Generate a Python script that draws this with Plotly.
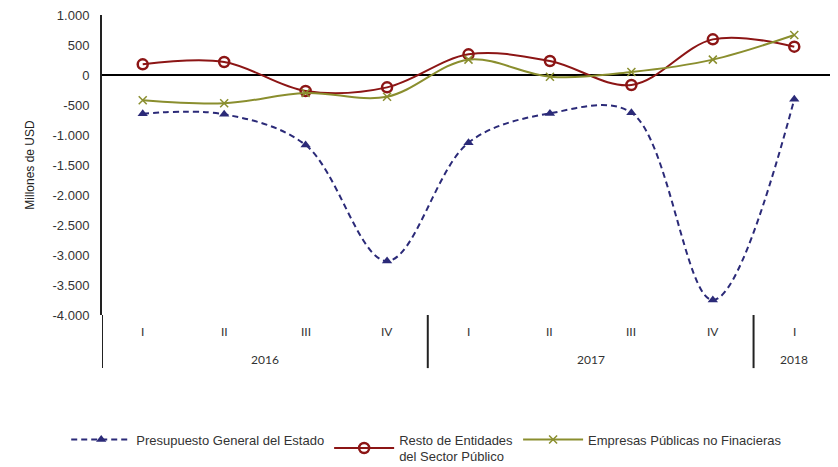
import plotly.graph_objects as go

years = ["2016", "2016", "2016", "2016", "2017", "2017", "2017", "2017", "2018"]
quarters = ["I", "II", "III", "IV", "I", "II", "III", "IV", "I"]

presupuesto = [-645, -655, -1167, -3100, -1128, -640, -628, -3750, -405]
resto = [178, 217, -267, -206, 344, 233, -167, 594, 472]
empresas = [-422, -472, -300, -361, 256, -28, 50, 256, 667]

names = ["Presupuesto General del Estado",
         "Resto de Entidades<br>del Sector Público",
         "Empresas Públicas no Finacieras"]

y_ticks = [1000, 500, 0, -500, -1000, -1500, -2000, -2500, -3000, -3500, -4000]
y_ticktext = ["1.000", "500", "0", "-500", "-1.000", "-1.500", "-2.000",
              "-2.500", "-3.000", "-3.500", "-4.000"]

idx = list(range(len(quarters)))

fig = go.Figure()
fig.add_trace(go.Scatter(
    x=idx, y=presupuesto, name=names[0], mode="lines+markers",
    line=dict(color="#2B2A78", width=2, dash="6px,4px", shape="spline"),
    marker=dict(symbol="triangle-up", size=9, color="#2B2A78")))
fig.add_trace(go.Scatter(
    x=idx, y=resto, name=names[1], mode="lines+markers",
    line=dict(color="#8C1515", width=2, shape="spline"),
    marker=dict(symbol="circle-open", size=10, color="#8C1515",
                line=dict(width=2.5, color="#8C1515"))))
fig.add_trace(go.Scatter(
    x=idx, y=empresas, name=names[2], mode="lines+markers",
    line=dict(color="#8A8E2E", width=2, shape="spline"),
    marker=dict(symbol="x-thin-open", size=8, color="#8A8E2E",
                line=dict(width=1.5, color="#8A8E2E"))))

label_font = dict(family="Lato, Liberation Sans, sans-serif", size=12, color="#333333")

# quarter labels (first row)
for i, q in enumerate(quarters):
    fig.add_annotation(x=i, y=-0.054, xref="x", yref="paper", text=q,
                       showarrow=False, font=label_font, xanchor="center", yanchor="middle")

# year groups (second row) and dividers
groups = []
for i, yv in enumerate(years):
    if groups and groups[-1][0] == yv:
        groups[-1][2] = i
    else:
        groups.append([yv, i, i])
for yv, s, e in groups:
    fig.add_annotation(x=(s + e) / 2, y=-0.147, xref="x", yref="paper", text=yv,
                       showarrow=False, font=label_font, xanchor="center", yanchor="middle")
boundaries = [groups[0][1] - 0.5] + [e + 0.5 for _, _, e in groups]
for b in boundaries:
    fig.add_shape(type="line", xref="x", yref="paper", x0=b, x1=b, y0=0, y1=-0.177,
                  line=dict(color="#222222", width=2))

fig.update_layout(
    width=838, height=467,
    margin=dict(l=94, r=11, t=7, b=160, autoexpand=False),
    paper_bgcolor="white", plot_bgcolor="white",
    font=dict(family="Liberation Sans, Arial, sans-serif", size=12, color="#222222"),
    showlegend=True,
    legend=dict(orientation="h", x=0.443, xanchor="center",
                yref="container", y=0.108, yanchor="top",
                font=dict(family="Liberation Sans, Arial, sans-serif", size=13, color="#333333"),
                traceorder="normal", itemwidth=60),
)
fig.update_yaxes(
    range=[-4000, 1000], tickvals=y_ticks, ticktext=y_ticktext,
    showgrid=False, zeroline=True, zerolinecolor="black", zerolinewidth=2,
    showline=True, linecolor="#222222", linewidth=2, ticks="",
    automargin=False, ticklabelstandoff=8, ticklabeloverflow="allow",
    title=dict(text="Millones de USD",
               font=dict(family="Liberation Sans, Arial, sans-serif", size=12)),
    tickfont=dict(size=13, color="#333333"),
)
fig.update_xaxes(
    range=[-0.5, len(quarters) - 0.5], showgrid=False, showline=False, ticks="",
    showticklabels=False, zeroline=False, automargin=False,
)

fig.write_html("out.html")
